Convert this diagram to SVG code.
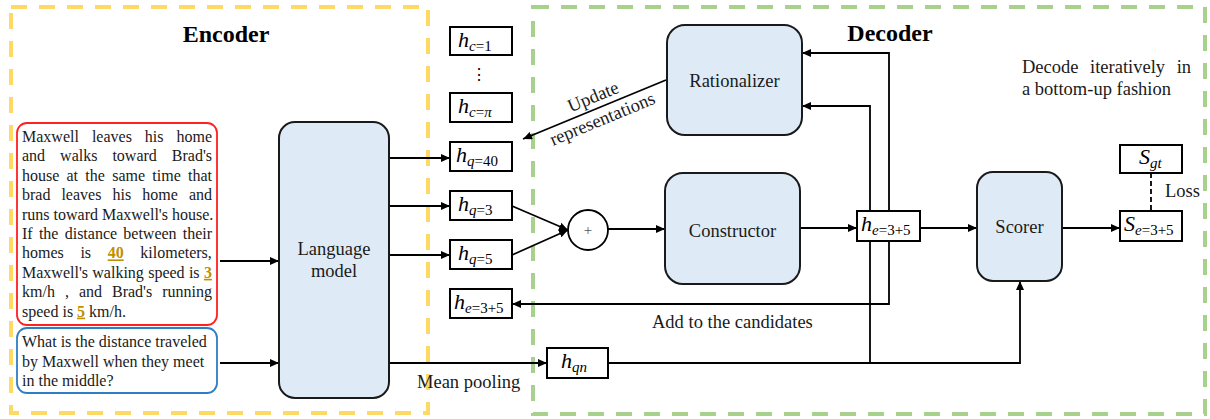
<svg xmlns="http://www.w3.org/2000/svg" width="1210" height="419" viewBox="0 0 1210 419">
<style>
text{font-family:"Liberation Serif","Times New Roman",serif;fill:#1a1a1a}
.t16{font-size:16px}
.t18{font-size:18.5px}
.title{font-size:24px;font-weight:bold;fill:#000}
.num{font-weight:bold;fill:#BF9000;text-decoration:underline}
.blk{fill:#DEEBF7;stroke:#1a1a1a;stroke-width:2}
.vec{fill:#fff;stroke:#000;stroke-width:2}
.h{font-size:22px;font-style:italic;fill:#000}
.si{font-size:15px;font-style:italic}
.sn{font-size:15px;font-style:normal}
.ln{fill:none;stroke:#000;stroke-width:1.8}
</style>
<defs>
<marker id="ah" markerUnits="userSpaceOnUse" markerWidth="9" markerHeight="8" refX="9" refY="4" orient="auto">
<path d="M0,0 L9,4 L0,8 z" fill="#000"/>
</marker>
</defs>

<g id="encoder-frame">
<rect x="11" y="7" width="417" height="406" fill="none" stroke="#FFD966" stroke-width="4" stroke-dasharray="16 12"/>
<text x="226" y="42" text-anchor="middle" class="title">Encoder</text>
</g>
<g id="decoder-frame">
<rect x="533" y="7" width="672" height="407" fill="none" stroke="#A9D18E" stroke-width="4" stroke-dasharray="16 12"/>
<text x="890" y="41" text-anchor="middle" class="title">Decoder</text>
<text class="t18" y="72.7"><tspan x="1022">Decode</tspan><tspan x="1090.1">iteratively</tspan><tspan x="1176.7">in</tspan></text>
<text class="t18" x="1022" y="95">a bottom-up fashion</text>
</g>

<g id="connectors">
<path class="ln" d="M220,261 H279" marker-end="url(#ah)"/>
<path class="ln" d="M220,363 H279" marker-end="url(#ah)"/>
<path class="ln" d="M389,158 H450" marker-end="url(#ah)"/>
<path class="ln" d="M389,206 H450" marker-end="url(#ah)"/>
<path class="ln" d="M389,255 H450" marker-end="url(#ah)"/>
<path class="ln" d="M389,363 H547" marker-end="url(#ah)"/>
<path class="ln" d="M512,206 L568,230" marker-end="url(#ah)"/>
<path class="ln" d="M512,255 L568,230" marker-end="url(#ah)"/>
<path class="ln" d="M608,229 H665" marker-end="url(#ah)"/>
<path class="ln" d="M800,228 H857" marker-end="url(#ah)"/>
<path class="ln" d="M920,228 H977" marker-end="url(#ah)"/>
<path class="ln" d="M1062,228 H1120" marker-end="url(#ah)"/>
<path class="ln" d="M1151,173 V211" stroke-dasharray="5 3"/>
<path class="ln" d="M889,211 V53 H802" marker-end="url(#ah)"/>
<path class="ln" d="M870,363 V106 H802" marker-end="url(#ah)"/>
<path class="ln" d="M889,241 V304 H512" marker-end="url(#ah)"/>
<path class="ln" d="M608,363 H1020 V281" marker-end="url(#ah)"/>
<path class="ln" d="M666,80 L523,139" marker-end="url(#ah)"/>
<g transform="translate(600,108) rotate(-22.5)">
<text class="t18" x="-2" y="-7" text-anchor="middle">Update</text>
<text class="t18" x="-2" y="17" text-anchor="middle">representations</text>
</g>
<text class="t18" x="652" y="328">Add to the candidates</text>
<text class="t18" x="417" y="388">Mean pooling</text>
<text class="t18" x="1165" y="197">Loss</text>
</g>

<g id="problem-text">
<rect x="17" y="123" width="200" height="202" rx="10" fill="#fff" stroke="#FF2020" stroke-width="1.8"/>
<g class="t16">
<text y="142"><tspan x="22">Maxwell</tspan><tspan x="91.9">leaves</tspan><tspan x="144.8">his</tspan><tspan x="176.5">home</tspan></text>
<text y="161.4"><tspan x="22">and</tspan><tspan x="60.1">walks</tspan><tspan x="112.4">toward</tspan><tspan x="171.8">Brad's</tspan></text>
<text y="180.8"><tspan x="22">house</tspan><tspan x="66.5">at</tspan><tspan x="85.3">the</tspan><tspan x="112.2">same</tspan><tspan x="152.3">time</tspan><tspan x="188">that</tspan></text>
<text y="200.2"><tspan x="22">brad</tspan><tspan x="61.4">leaves</tspan><tspan x="112.5">his</tspan><tspan x="142.2">home</tspan><tspan x="188.9">and</tspan></text>
<text x="22" y="219.6">runs toward Maxwell's house.</text>
<text y="239"><tspan x="22">If</tspan><tspan x="38.9">the</tspan><tspan x="64.7">distance</tspan><tspan x="123.3">between</tspan><tspan x="182.7">their</tspan></text>
<text y="258.4"><tspan x="22">homes</tspan><tspan x="80.4">is</tspan><tspan x="107.7" class="num">40</tspan><tspan x="140.3">kilometers,</tspan></text>
<text y="277.8"><tspan x="22">Maxwell's</tspan><tspan x="92.3">walking</tspan><tspan x="148.2">speed</tspan><tspan x="188.9">is</tspan><tspan x="203.9" class="num">3</tspan></text>
<text y="297.2"><tspan x="22">km/h</tspan><tspan x="64.9">,</tspan><tspan x="78.9">and</tspan><tspan x="112">Brad's</tspan><tspan x="162.2">running</tspan></text>
<text x="22" y="316.6">speed is <tspan class="num">5</tspan> km/h.</text>
</g>
</g>

<g id="question-text">
<rect x="17" y="328" width="200" height="65" rx="10" fill="#fff" stroke="#2E7DC6" stroke-width="1.8"/>
<g class="t16">
<text x="22" y="347">What is the distance traveled</text>
<text x="22" y="366.5">by Maxwell when they meet</text>
<text x="22" y="386">in the middle?</text>
</g>
</g>

<g id="language-model">
<rect class="blk" x="279" y="122" width="110" height="276" rx="16"/>
<text class="t18" x="334" y="255" text-anchor="middle">Language</text>
<text class="t18" x="334" y="277" text-anchor="middle">model</text>
</g>

<g id="h-c1">
<rect class="vec" x="450" y="27" width="62" height="28"/>
<text class="h" x="458" y="47">h<tspan class="si" dy="4">c</tspan><tspan class="sn">=1</tspan></text>
</g>
<g id="dots">
<text x="479" y="80" text-anchor="middle" style="font-family:'DejaVu Serif',serif;font-size:16px;fill:#000">⋮</text>
</g>
<g id="h-cpi">
<rect class="vec" x="450" y="93" width="62" height="29"/>
<text class="h" x="458" y="113">h<tspan class="si" dy="4">c</tspan><tspan class="sn">=</tspan><tspan class="si">π</tspan></text>
</g>
<g id="h-q40">
<rect class="vec" x="450" y="142" width="62" height="29"/>
<text class="h" x="456" y="162">h<tspan class="si" dy="4">q</tspan><tspan class="sn">=40</tspan></text>
</g>
<g id="h-q3">
<rect class="vec" x="450" y="191" width="62" height="29"/>
<text class="h" x="458" y="211">h<tspan class="si" dy="4">q</tspan><tspan class="sn">=3</tspan></text>
</g>
<g id="h-q5">
<rect class="vec" x="450" y="240" width="62" height="29"/>
<text class="h" x="458" y="260">h<tspan class="si" dy="4">q</tspan><tspan class="sn">=5</tspan></text>
</g>
<g id="h-e-cand">
<rect class="vec" x="450" y="289" width="62" height="29"/>
<text class="h" x="454" y="309">h<tspan class="si" dy="4">e</tspan><tspan class="sn">=3+5</tspan></text>
</g>
<g id="h-qn">
<rect class="vec" x="547" y="348" width="61" height="30"/>
<text class="h" x="561" y="368">h<tspan class="si" dy="4">qn</tspan></text>
</g>

<g id="plus">
<circle cx="588" cy="230" r="20" fill="#fff" stroke="#000" stroke-width="1.8"/>
<text x="588" y="235" text-anchor="middle" style="font-size:15px;fill:#555">+</text>
</g>

<g id="rationalizer">
<rect class="blk" x="667" y="25" width="135" height="110" rx="18"/>
<text class="t18" x="734.5" y="87" text-anchor="middle">Rationalizer</text>
</g>
<g id="constructor">
<rect class="blk" x="665" y="173" width="135" height="111" rx="18"/>
<text class="t18" x="732.5" y="237" text-anchor="middle">Constructor</text>
</g>
<g id="h-e">
<rect class="vec" x="857" y="211" width="63" height="30"/>
<text class="h" x="861" y="231">h<tspan class="si" dy="4">e</tspan><tspan class="sn">=3+5</tspan></text>
</g>
<g id="scorer">
<rect class="blk" x="977" y="172" width="85" height="109" rx="16"/>
<text class="t18" x="1019.5" y="233" text-anchor="middle">Scorer</text>
</g>
<g id="s-gt">
<rect class="vec" x="1120" y="145" width="62" height="28"/>
<text class="h" x="1139" y="164">S<tspan class="si" dy="4">gt</tspan></text>
</g>
<g id="s-e">
<rect class="vec" x="1120" y="211" width="62" height="30"/>
<text class="h" x="1124" y="231">S<tspan class="si" dy="4">e</tspan><tspan class="sn">=3+5</tspan></text>
</g>
</svg>
